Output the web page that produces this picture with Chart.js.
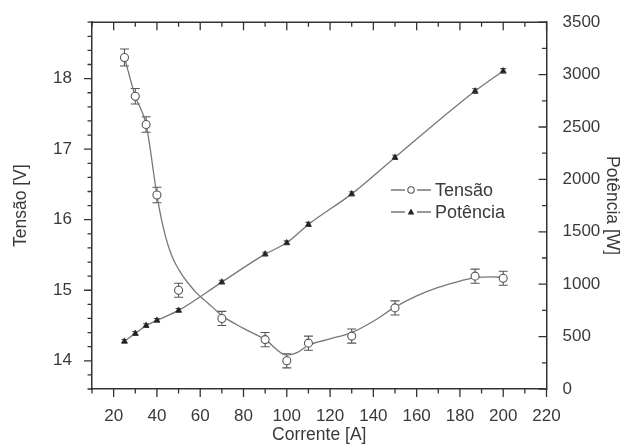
<!DOCTYPE html>
<html>
<head>
<meta charset="utf-8">
<script src="https://cdn.jsdelivr.net/npm/chart.js@4.4.1/dist/chart.umd.min.js"></script>
<style>
body { margin: 0; background: #fff; }
</style>
</head>
<body>
<canvas id="grafico" width="635" height="446"></canvas>
<script>
// valores
var corrente = [25, 30, 35, 40, 50, 70, 90, 100, 110, 130, 150, 187, 200];
var tensao = [18.3, 17.75, 17.35, 16.35, 15.0, 14.6, 14.3, 14.0, 14.25, 14.35, 14.75, 15.2, 15.17];
var tensaoErro = [0.12, 0.11, 0.11, 0.11, 0.1, 0.1, 0.1, 0.1, 0.1, 0.1, 0.1, 0.1, 0.1];
var potencia = [455, 530, 605, 655, 750, 1020, 1287, 1395, 1570, 1862, 2210, 2843, 3035];
var potenciaErro = [18, 18, 18, 18, 18, 18, 18, 18, 20, 20, 20, 22, 22];

// curva ajustada da tensao
var ajusteX = [25, 30, 35, 40, 42, 44, 46, 48, 50, 52, 55, 58, 62, 66, 70, 80, 90, 100, 105, 110, 120, 130, 140, 150, 160, 170, 180, 187, 195, 200];
var ajusteY = [18.3, 17.75, 17.35, 16.35, 16.02, 15.76, 15.56, 15.41, 15.3, 15.2, 15.08, 14.97, 14.86, 14.75, 14.64, 14.46, 14.3, 14.08, 14.12, 14.22, 14.31, 14.4, 14.56, 14.76, 14.92, 15.04, 15.13, 15.18, 15.19, 15.18];

var corTexto = '#3a3a3a';
var corEixo = '#333';
var corLinha = '#777';

function pares(xs, ys) {
    var out = [];
    for (var i = 0; i < xs.length; i++) out.push({x: xs[i], y: ys[i]});
    return out;
}

function ehInteiro(v, passo) {
    var r = v / passo;
    return Math.abs(r - Math.round(r)) < 1e-6;
}

var eixosPlugin = {
    id: 'eixos',
    beforeDatasetsDraw: function(chart) {
        // barras de erro
        var ctx = chart.ctx;
        var listas = [[1, tensao, tensaoErro, 'y', 4.5], [2, potencia, potenciaErro, 'y1', 3]];
        ctx.save();
        ctx.strokeStyle = '#555';
        ctx.lineWidth = 1.1;
        listas.forEach(function(l) {
            var meta = chart.getDatasetMeta(l[0]);
            var esc = chart.scales[l[3]];
            for (var j = 0; j < l[1].length; j++) {
                var x = meta.data[j].x;
                var y1 = esc.getPixelForValue(l[1][j] + l[2][j]);
                var y2 = esc.getPixelForValue(l[1][j] - l[2][j]);
                ctx.beginPath();
                ctx.moveTo(x, y1); ctx.lineTo(x, y2);
                ctx.moveTo(x - l[4], y1); ctx.lineTo(x + l[4], y1);
                ctx.moveTo(x - l[4], y2); ctx.lineTo(x + l[4], y2);
                ctx.stroke();
            }
        });
        ctx.restore();
    },
    afterDraw: function(chart) {
        var ctx = chart.ctx;
        var a = chart.chartArea;
        var sx = chart.scales.x, sy = chart.scales.y, sy1 = chart.scales.y1;
        ctx.save();
        ctx.strokeStyle = corEixo;
        ctx.lineWidth = 1.5;
        // borda superior
        ctx.beginPath();
        ctx.moveTo(a.left, a.top); ctx.lineTo(a.right, a.top);
        ctx.stroke();
        ctx.lineWidth = 1.3;
        ctx.beginPath();
        sx.ticks.forEach(function(t) {
            var px = sx.getPixelForValue(t.value);
            var len = ehInteiro(t.value, 20) ? 8 : 4.5;
            ctx.moveTo(px, a.bottom); ctx.lineTo(px, a.bottom + len);
            ctx.moveTo(px, a.top); ctx.lineTo(px, a.top + len);
        });
        sy.ticks.forEach(function(t) {
            var py = sy.getPixelForValue(t.value);
            var len = ehInteiro(t.value, 1) ? 8 : 4.5;
            ctx.moveTo(a.left, py); ctx.lineTo(a.left - len, py);
        });
        sy1.ticks.forEach(function(t) {
            var py = sy1.getPixelForValue(t.value);
            var len = ehInteiro(t.value, 500) ? 8 : 4.5;
            ctx.moveTo(a.right, py); ctx.lineTo(a.right - len, py);
        });
        ctx.stroke();

        // legenda
        var lx = 391, ly = [190, 212];
        ctx.strokeStyle = corLinha;
        ctx.lineWidth = 1.3;
        ctx.font = '18px "Liberation Sans", Arial, sans-serif';
        ctx.fillStyle = corTexto;
        ctx.textBaseline = 'middle';
        ['Tensão', 'Potência'].forEach(function(txt, i) {
            var y = ly[i];
            ctx.beginPath();
            ctx.moveTo(lx, y); ctx.lineTo(lx + 14, y);
            ctx.moveTo(lx + 26, y); ctx.lineTo(lx + 40, y);
            ctx.stroke();
            ctx.fillText(txt, lx + 44, y + 1);
        });
        ctx.beginPath();
        ctx.arc(lx + 20, ly[0], 3.2, 0, Math.PI * 2);
        ctx.strokeStyle = '#555';
        ctx.lineWidth = 1.1;
        ctx.stroke();
        ctx.beginPath();
        ctx.moveTo(lx + 20, ly[1] - 3.5);
        ctx.lineTo(lx + 23.3, ly[1] + 2.5);
        ctx.lineTo(lx + 16.7, ly[1] + 2.5);
        ctx.closePath();
        ctx.fillStyle = '#222';
        ctx.fill();
        ctx.restore();
    }
};

var fonteTick = { family: '"Liberation Sans", Arial, sans-serif', size: 17 };
var fonteTitulo = { family: '"Liberation Sans", Arial, sans-serif', size: 17.5 };

new Chart(document.getElementById('grafico'), {
    type: 'line',
    data: {
        datasets: [
            {
                label: 'Tensão (ajuste)',
                data: pares(ajusteX, ajusteY),
                yAxisID: 'y',
                borderColor: corLinha,
                borderWidth: 1.3,
                pointRadius: 0,
                cubicInterpolationMode: 'monotone',
                order: 3
            },
            {
                label: 'Tensão',
                data: pares(corrente, tensao),
                yAxisID: 'y',
                showLine: false,
                pointStyle: 'circle',
                pointRadius: 4,
                pointBackgroundColor: '#fff',
                pointBorderColor: '#555',
                pointBorderWidth: 1.1,
                order: 1
            },
            {
                label: 'Potência',
                data: pares(corrente, potencia),
                yAxisID: 'y1',
                borderColor: corLinha,
                borderWidth: 1.3,
                cubicInterpolationMode: 'monotone',
                pointStyle: 'triangle',
                pointRadius: 3.5,
                pointBackgroundColor: '#222',
                pointBorderColor: '#222',
                pointBorderWidth: 0.5,
                order: 2
            }
        ]
    },
    options: {
        responsive: false,
        animation: false,
        devicePixelRatio: 1,
        layout: { padding: { top: 20, left: 0, right: 0, bottom: 0 } },
        plugins: { legend: { display: false }, tooltip: { enabled: false } },
        scales: {
            x: {
                type: 'linear',
                position: 'bottom',
                min: 10, max: 220,
                afterFit: function(s) { s.height = 57; },
                grid: { display: false },
                border: { display: true, color: corEixo, width: 1.5 },
                ticks: {
                    stepSize: 10,
                    autoSkip: false,
                    maxRotation: 0,
                    padding: 9,
                    color: corTexto,
                    font: fonteTick,
                    callback: function(v) { return ehInteiro(v, 20) && v >= 20 ? String(Math.round(v)) : ''; }
                },
                title: { display: true, text: 'Corrente [A]', color: corTexto, font: fonteTitulo, padding: { top: 0, bottom: 0 } }
            },
            y: {
                type: 'linear',
                position: 'left',
                min: 13.6, max: 18.8,
                afterFit: function(s) { s.width = 92; },
                grid: { display: false },
                border: { display: true, color: corEixo, width: 1.5 },
                ticks: {
                    stepSize: 0.2,
                    autoSkip: false,
                    padding: 12,
                    color: corTexto,
                    font: fonteTick,
                    callback: function(v) { return ehInteiro(v, 1) ? String(Math.round(v)) : ''; }
                },
                title: { display: true, text: 'Tensão [V]', color: corTexto, font: fonteTitulo, padding: { top: 11, bottom: 0 } }
            },
            y1: {
                type: 'linear',
                position: 'right',
                min: 0, max: 3500,
                afterFit: function(s) { s.width = 88.5; },
                grid: { display: false },
                border: { display: true, color: corEixo, width: 1.5 },
                ticks: {
                    stepSize: 250,
                    autoSkip: false,
                    padding: 8,
                    color: corTexto,
                    font: fonteTick,
                    callback: function(v) { return ehInteiro(v, 500) ? String(Math.round(v)) : ''; }
                },
                title: { display: true, text: 'Potência [W]', color: corTexto, font: fonteTitulo, padding: { top: 12.5, bottom: 0 } }
            }
        }
    },
    plugins: [eixosPlugin]
});
</script>
</body>
</html>
